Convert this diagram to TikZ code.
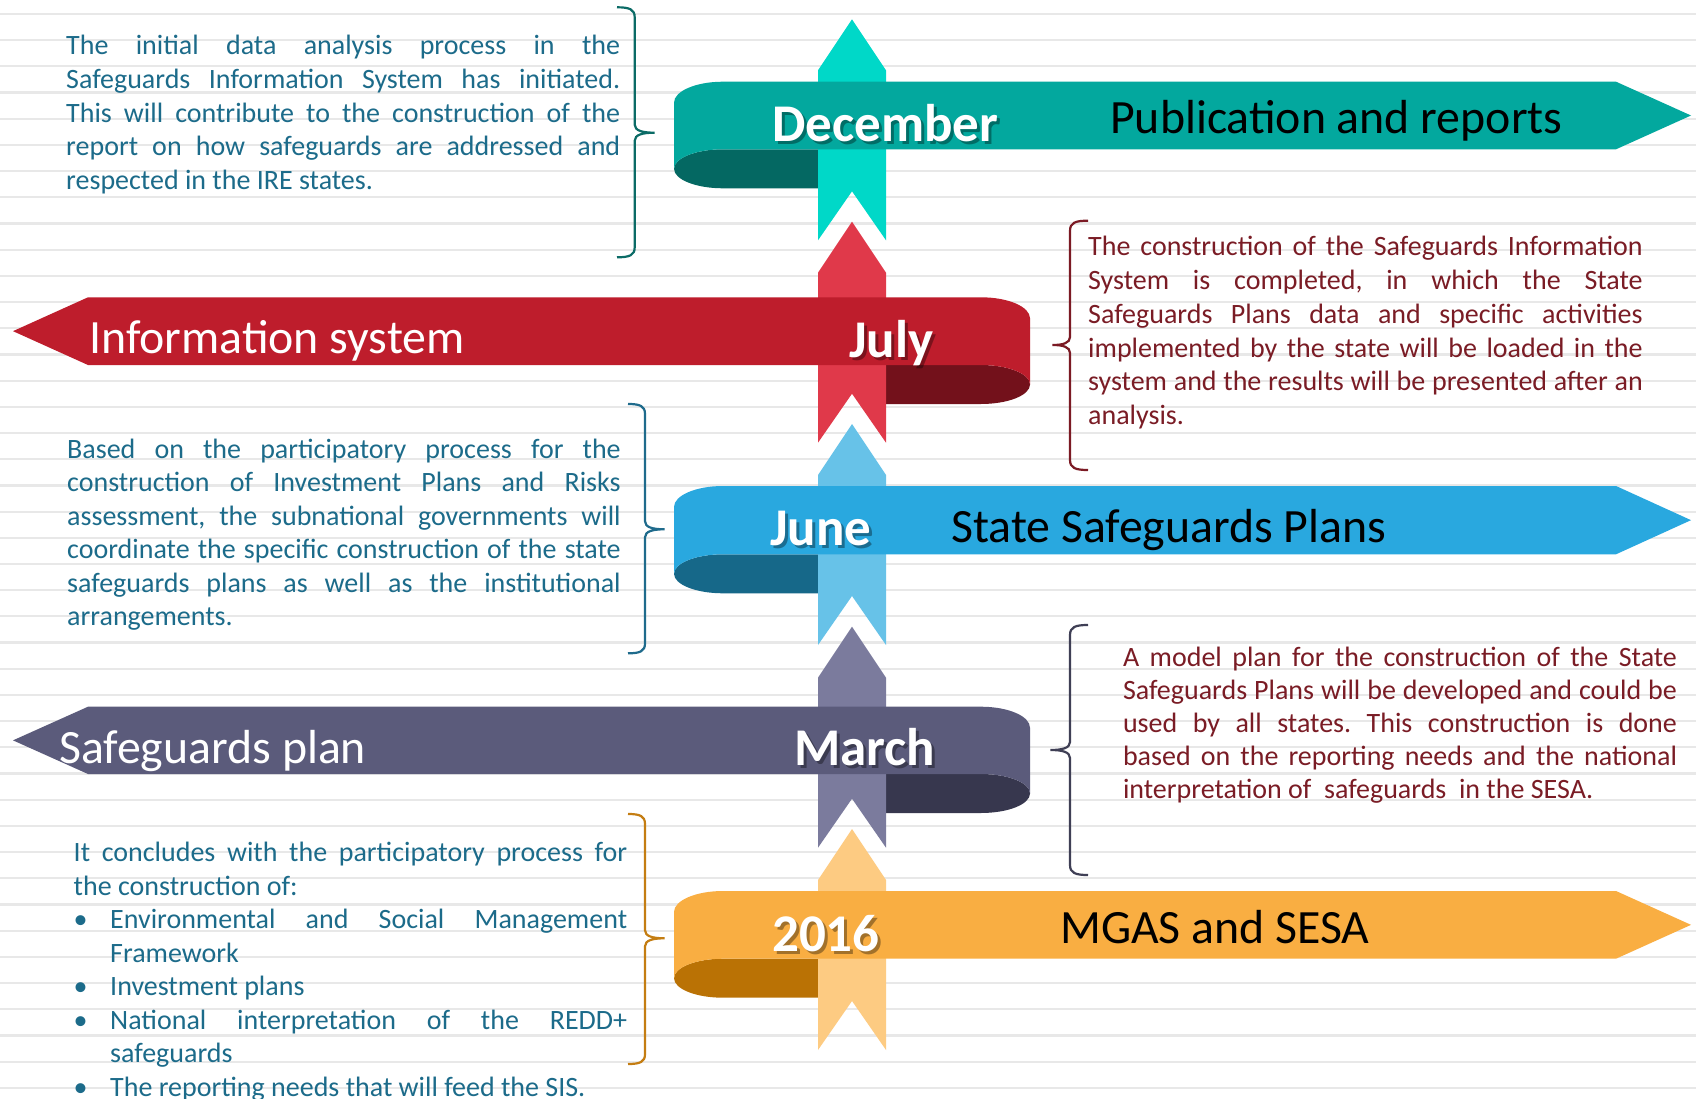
\documentclass[tikz,border=0pt]{standalone}
\usepackage{fontspec}
\setmainfont{Carlito}
\frenchspacing
\definecolor{tealBand}{HTML}{03A89E}
\definecolor{tealDark}{HTML}{046862}
\definecolor{tealArr}{HTML}{00D8C8}
\definecolor{redBand}{HTML}{BE1D2C}
\definecolor{redDark}{HTML}{73111B}
\definecolor{redArr}{HTML}{E0394A}
\definecolor{blueBand}{HTML}{29A8DF}
\definecolor{blueDark}{HTML}{166889}
\definecolor{blueArr}{HTML}{67C2E8}
\definecolor{purpBand}{HTML}{5B5B7B}
\definecolor{purpDark}{HTML}{37374E}
\definecolor{purpArr}{HTML}{7B7B9D}
\definecolor{orBand}{HTML}{F9AE42}
\definecolor{orDark}{HTML}{BA7205}
\definecolor{orArr}{HTML}{FDCB82}
\definecolor{leftText}{HTML}{1C6B8A}
\definecolor{rightText}{HTML}{7A1C25}
\definecolor{bgLine}{HTML}{E8E8E8}
\definecolor{brTeal}{HTML}{0B6B66}
\definecolor{brBlue}{HTML}{1F6B8C}
\definecolor{brOrange}{HTML}{C47D12}
\definecolor{brRed}{HTML}{7B1A24}
\definecolor{brNavy}{HTML}{3F3F55}
\newcommand\bodyfnt{\fontsize{28}{33}\selectfont}
\newcommand\headfnt{\fontsize{47.8}{52}\selectfont}
\newcommand\monthfnt{\bfseries\fontsize{53}{58}\selectfont}
% vertical arrow: tip y, prefix
\newcommand\vertarrow[2]{%
  \fill[#2Arr] (852,#1) -- (886,#1+51) -- (886,#1+221) -- (852,#1+172) -- (818,#1+221) -- (818,#1+51) -- cycle;}
% ribbon with curl on the left: T, B, arrow tip y, prefix
\newcommand\leftribbon[4]{%
  \fill[#4Dark] (818,#2) -- (723,#2) .. controls (695.94,#2) and (674,#2+8.73) .. (674,#2+19.5)
     .. controls (674,#2+30.27) and (695.94,#2+39) .. (723,#2+39) -- (818,#2+39) -- cycle;
  \vertarrow{#3}{#4}
  \fill[#4Band] (723,#1) -- (1616,#1) -- (1691,{(#1+#2)/2}) -- (1616,#2) -- (723,#2)
     .. controls (695.94,#2) and (674,#2+8.73) .. (674,#2+19.5) -- (674,#1+21)
     .. controls (674,#1+9.4) and (695.94,#1) .. (723,#1) -- cycle;}
% ribbon with curl on the right
\newcommand\rightribbon[4]{%
  \fill[#4Dark] (886,#2) -- (981,#2) .. controls (1008.06,#2) and (1030,#2+8.73) .. (1030,#2+19.5)
     .. controls (1030,#2+30.27) and (1008.06,#2+39) .. (981,#2+39) -- (886,#2+39) -- cycle;
  \vertarrow{#3}{#4}
  \fill[#4Band] (981,#1) -- (88,#1) -- (13,{(#1+#2)/2}) -- (88,#2) -- (981,#2)
     .. controls (1008.06,#2) and (1030,#2+8.73) .. (1030,#2+19.5) -- (1030,#1+21)
     .. controls (1030,#1+9.4) and (1008.06,#1) .. (981,#1) -- cycle;}
% brace: hook x, vertical x, tip x, top, mid, bottom, colour
\newcommand\brc[7]{%
  \draw[#7, line width=2.2pt] (#1,#4) .. controls ({0.3*#1+0.7*#2},#4) and (#2,#4+2) .. (#2,#4+10)
    -- (#2,#5-8) .. controls (#2,#5-2) and ({0.6*#2+0.4*#3},#5) .. (#3,#5)
    .. controls ({0.6*#2+0.4*#3},#5) and (#2,#5+2) .. (#2,#5+8)
    -- (#2,#6-10) .. controls (#2,#6-2) and ({0.3*#1+0.7*#2},#6) .. (#1,#6);}
\begin{document}
\begin{tikzpicture}[x=1pt,y=-1pt,
  lbody/.style={font=\bodyfnt, text=leftText, inner sep=0pt, anchor=base west},
  rbody/.style={font=\bodyfnt, text=rightText, inner sep=0pt, anchor=base west},
  head/.style={font=\headfnt, inner sep=0pt, anchor=base west},
  month/.style={font=\monthfnt, text=white, inner sep=0pt, anchor=base west},
  mshadow/.style={font=\monthfnt, text=black, opacity=0.35, inner sep=0pt, anchor=base west}]
\useasboundingbox (0,0) rectangle (1696,1099);
\fill[white] (0,0) rectangle (1696,1099);
\foreach \k in {0,...,41} \draw[bgLine, line width=2.2pt] (0,{14+26.19*\k}) -- (1696,{14+26.19*\k});

% ribbons
\leftribbon{81.7}{149.3}{19.3}{teal}
\rightribbon{297.3}{365}{221.7}{red}
\leftribbon{486}{554.3}{424}{blue}
\rightribbon{706.7}{774}{626.7}{purp}
\leftribbon{891}{958.7}{829}{or}

% ribbon labels
\node[mshadow] (decS) at (775,144.7) {December};
\node[month] (dec) at (772,141.7) {December};
\node[head, text=black] (pub) at (1110,134) {Publication and reports};
\node[head, text=white] (info) at (89,353) {Information system};
\node[mshadow] (julS) at (852,360) {July};
\node[month] (jul) at (849,357) {July};
\node[mshadow] (junS) at (773,548.7) {June};
\node[month] (jun) at (770,545.7) {June};
\node[head, text=black] (ssp) at (951,542) {State Safeguards Plans};
\node[head, text=white] (sgp) at (59,763) {Safeguards plan};
\node[mshadow] (marS) at (797,768.7) {March};
\node[month] (mar) at (794,765.7) {March};
\node[mshadow] (yrS) at (775,954) {2016};
\node[month] (yr) at (772,951) {2016};
\node[head, text=black] (mgas) at (1060,943.5) {MGAS and SESA};

% braces
\brc{617}{634.7}{654.5}{7.3}{132.7}{257.3}{brTeal}
\brc{628}{645}{664.5}{404}{529.3}{653.3}{brBlue}
\brc{628}{645}{664.5}{814}{938.3}{1064}{brOrange}
\brc{1088}{1070}{1052.5}{220.7}{345}{470}{brRed}
\brc{1088}{1070}{1050.5}{625}{750}{875}{brNavy}

% top-left text
\node[lbody] (a1) at (66,55) {\makebox[554pt][s]{The initial data analysis process in the}};
\node[lbody] (a2) at (66,88.6) {\makebox[554pt][s]{Safeguards Information System has initiated.}};
\node[lbody] (a3) at (66,122.2) {\makebox[554pt][s]{This will contribute to the construction of the}};
\node[lbody] (a4) at (66,155.8) {\makebox[554pt][s]{report on how safeguards are addressed and}};
\node[lbody] (a5) at (66,189.4) {respected in the IRE states.};

% top-right text
\node[rbody] (b1) at (1088,256) {\makebox[554.5pt][s]{The construction of the Safeguards Information}};
\node[rbody] (b2) at (1088,289.7) {\makebox[554.5pt][s]{System is completed, in which the State}};
\node[rbody] (b3) at (1088,323.4) {\makebox[554.5pt][s]{Safeguards Plans data and specific activities}};
\node[rbody] (b4) at (1088,357.1) {\makebox[554.5pt][s]{implemented by the state will be loaded in the}};
\node[rbody] (b5) at (1088,390.8) {\makebox[554.5pt][s]{system and the results will be presented after an}};
\node[rbody] (b6) at (1088,424.5) {analysis.};

% middle-left text
\node[lbody] (c1) at (67,458.5) {\makebox[553.5pt][s]{Based on the participatory process for the}};
\node[lbody] (c2) at (67,491.9) {\makebox[553.5pt][s]{construction of Investment Plans and Risks}};
\node[lbody] (c3) at (67,525.3) {\makebox[553.5pt][s]{assessment, the subnational governments will}};
\node[lbody] (c4) at (67,558.7) {\makebox[553.5pt][s]{coordinate the specific construction of the state}};
\node[lbody] (c5) at (67,592.1) {\makebox[553.5pt][s]{safeguards plans as well as the institutional}};
\node[lbody] (c6) at (67,625.5) {arrangements.};

% middle-right text
\node[rbody] (d1) at (1122.8,666) {\makebox[554pt][s]{A model plan for the construction of the State}};
\node[rbody] (d2) at (1122.8,699.1) {\makebox[554pt][s]{Safeguards Plans will be developed and could be}};
\node[rbody] (d3) at (1122.8,732.2) {\makebox[554pt][s]{used by all states. This construction is done}};
\node[rbody] (d4) at (1122.8,765.3) {\makebox[554pt][s]{based on the reporting needs and the national}};
\node[rbody] (d5) at (1122.8,798.4) {interpretation of~ safeguards~ in the SESA.};

% bottom-left text
\node[lbody] (e1) at (73.5,861.7) {\makebox[553.5pt][s]{It concludes with the participatory process for}};
\node[lbody] (e2) at (73.5,895.2) {the construction of:};
\node[lbody] (e3b) at (73.5,928.6) {\textbullet};
\node[lbody] (e3) at (110,928.6) {\makebox[517pt][s]{Environmental and Social Management}};
\node[lbody] (e4) at (110,962.1) {Framework};
\node[lbody] (e5b) at (73.5,995.6) {\textbullet};
\node[lbody] (e5) at (110,995.6) {Investment plans};
\node[lbody] (e6b) at (73.5,1029) {\textbullet};
\node[lbody] (e6) at (110,1029) {\makebox[517pt][s]{National interpretation of the REDD+}};
\node[lbody] (e7) at (110,1062.5) {safeguards};
\node[lbody] (e8b) at (73.5,1096) {\textbullet};
\node[lbody] (e8) at (110,1096) {The reporting needs that will feed the SIS.};
\end{tikzpicture}
\end{document}
